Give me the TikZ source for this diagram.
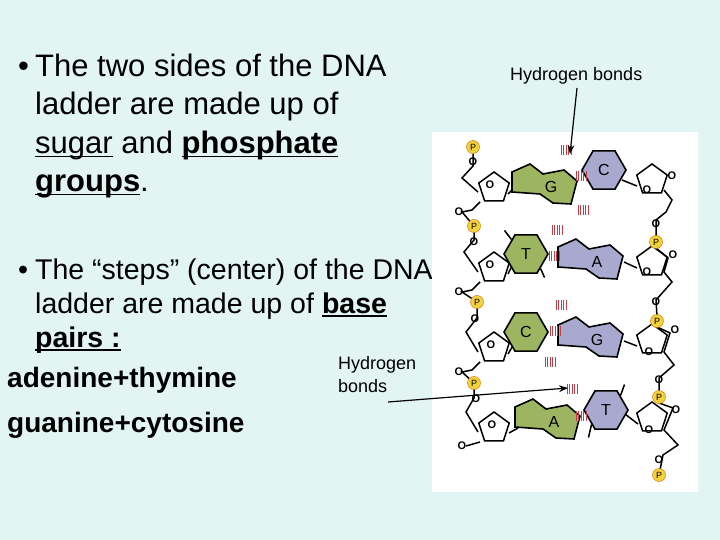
\documentclass[tikz,border=0pt]{standalone}
\usepackage{fontspec}
\setmainfont{Liberation Sans}
\usetikzlibrary{shapes.geometric,arrows.meta,calc}
\definecolor{bg}{HTML}{E2F5F2}
\definecolor{grn}{HTML}{9DB560}
\definecolor{pur}{HTML}{A9A9CF}
\definecolor{pyel}{HTML}{F2D23A}
\definecolor{hred}{HTML}{C0404A}
\newcommand{\myul}[1]{\setbox0\hbox{#1}\rlap{\rule[-3.5pt]{\wd0}{1.6pt}}\box0}
\tikzset{
 txt/.style={anchor=base west,inner sep=0pt,font=\fontsize{31}{34}\selectfont},
 txtc/.style={anchor=base west,inner sep=0pt,font=\fontsize{28.5}{34}\selectfont},
 txtb/.style={anchor=base west,inner sep=0pt,font=\fontsize{28}{30}\selectfont\bfseries},
 small/.style={anchor=base west,inner sep=0pt,font=\fontsize{18}{23}\selectfont,align=left},
 hexa/.style={regular polygon,regular polygon sides=6,minimum size=44pt,draw,line width=1.6pt,inner sep=0pt,font=\fontsize{16}{16}\selectfont},
 sug/.style={regular polygon,regular polygon sides=5,minimum size=32pt,draw,line width=1.5pt,inner sep=0pt},
 phos/.style={circle,fill=pyel,draw=orange!80!black,minimum size=13pt,inner sep=0pt,font=\fontsize{9}{9}\selectfont},
 ox/.style={inner sep=0.5pt,font=\fontsize{11}{11}\selectfont\bfseries},
 bb/.style={line width=1.5pt},
 arr/.style={line width=1.2pt,-{Stealth[length=9pt]}}
}
\newcommand{\hbond}[2]{\foreach \i in {0,...,4}{\draw[hred,line width=1pt] ($(#1,#2)+(\i*2.6,-5)$) -- ++(0,10);}}
\newcommand{\purine}[4]{% x y color label
 \draw[fill=#3,line width=1.6pt] (#1,#2) ++(-34,-15) -- ++(18,-8) -- ++(13,10) -- ++(21,-4) -- ++(13,11) -- ++(-6,23) -- ++(-18,-1) -- ++(-13,-9) -- ++(-28,-2) -- cycle;
 \node[font=\fontsize{16}{16}\selectfont] at (#1+5,#2) {#4};}
\begin{document}
\begin{tikzpicture}[x=1pt,y=-1pt]
\fill[bg] (0,0) rectangle (720,540);
\useasboundingbox (0,0) rectangle (720,540);
% text
\node[txt] (b1) at (18,77) {•};
\node[txt] (l1) at (35,77) {The two sides of the DNA};
\node[txt] (l2) at (35,115) {ladder are made up of};
\node[txt] (l3) at (35,154) {\myul{sugar}\ and \textbf{\myul{phosphate}}};
\node[txt] (l4) at (35,192) {\textbf{\myul{groups}}.};
\node[txtc] (b2) at (18,279) {•};
\node[txtc] (m1) at (35,279) {The “steps” (center) of the DNA};
\node[txtc] (m2) at (35,313) {ladder are made up of \textbf{\myul{base}}};
\node[txtc] (m3) at (35,347) {\textbf{\myul{pairs :}}};
\node[txtb] (ad) at (7,387) {adenine+thymine};
\node[txtb] (gu) at (7,432) {guanine+cytosine};
\node[small] (hb2) at (338,392) {Hydrogen\\bonds};
\node[small] (hb1) at (510,81) {Hydrogen bonds};
% figure
\fill[white] (432,132) rectangle (698,492);
% backbones left
\foreach \y in {188,268,348,428}{ \node[sug] at (494,\y) {}; }
\draw[bb] (473,154) -- (473,166) -- (462,178) -- (478,192);
\draw[bb] (480,202) -- (472,210) -- (462,212) -- (474,226) -- (474,240) -- (464,252) -- (478,272);
\draw[bb] (480,282) -- (472,290) -- (462,292) -- (477,302) -- (477,318) -- (466,332) -- (478,352);
\draw[bb] (480,362) -- (472,370) -- (462,372) -- (474,383) -- (474,398) -- (466,412) -- (478,432);
\draw[bb] (480,442) -- (466,446);
\node[ox] at (473,162) {O}; \node[ox] at (459,212) {O}; \node[ox] at (474,242) {O};
\node[ox] at (459,292) {O}; \node[ox] at (475,319) {O}; \node[ox] at (459,372) {O};
\node[ox] at (476,399) {O}; \node[ox] at (462,446) {O};
\node[ox] at (490,185) {O}; \node[ox] at (490,265) {O}; \node[ox] at (491,345) {O}; \node[ox] at (492,425) {O};
\node[phos] at (473,147) {P}; \node[phos] at (474,226) {P}; \node[phos] at (477,302) {P}; \node[phos] at (474,383) {P};
% backbones right
\foreach \y in {180,262,340,418}{ \node[sug] at (652,\y) {}; }
\draw[bb] (664,190) -- (672,200) -- (666,212) -- (656,220) -- (656,236);
\draw[bb] (656,248) -- (668,258) -- (664,272) -- (672,282) -- (656,300) -- (657,316);
\draw[bb] (657,327) -- (670,333) -- (664,352) -- (674,365) -- (659,378) -- (659,392);
\draw[bb] (659,403) -- (673,408) -- (664,430) -- (678,445) -- (663,455) -- (660,470);
\node[ox] at (672,176) {O}; \node[ox] at (647,190) {O}; \node[ox] at (656,224) {O};
\node[ox] at (673,255) {O}; \node[ox] at (647,272) {O}; \node[ox] at (656,302) {O};
\node[ox] at (675,330) {O}; \node[ox] at (649,352) {O}; \node[ox] at (659,380) {O};
\node[ox] at (676,410) {O}; \node[ox] at (649,430) {O}; \node[ox] at (659,460) {O};
\node[phos] at (656,242) {P}; \node[phos] at (657,321) {P}; \node[phos] at (659,397) {P}; \node[phos] at (659,475) {P};
% sugar-base links
\draw[bb] (508,194) -- (513,189); \draw[bb] (508,274) -- (512,266);
\draw[bb] (508,354) -- (514,344); \draw[bb] (509,433) -- (518,428);
\draw[bb] (622,180) -- (637,186); \draw[bb] (624,262) -- (637,268);
\draw[bb] (624,341) -- (637,346); \draw[bb] (625,414) -- (638,424);
% bases
\purine{546}{187}{grn}{G}
\node[hexa,fill=pur] (C1) at (604,170) {C};
\node[hexa,fill=grn] (T1) at (526,254) {T};
\purine{592}{262}{pur}{A}
\node[hexa,fill=grn] (C2) at (526,332) {C};
\purine{592}{340}{pur}{G}
\purine{549}{422}{grn}{A}
\node[hexa,fill=pur] (T2) at (606,410) {T};
\draw[bb] (T1.north west) -- ++(-7,-9); \draw[bb] (T1.south east) -- ++(4,9);
\draw[bb] (T2.north east) -- ++(4,-11); \draw[bb] (T2.south west) -- ++(-3,13);
% hydrogen bonds
\hbond{561}{150}\hbond{576}{176}\hbond{578}{210}
\hbond{552}{230}\hbond{549}{256}
\hbond{556}{305}\hbond{550}{331}\hbond{545}{362}
\hbond{567}{389}\hbond{576}{416}
% arrows
\coordinate (a1) at (577,88);
\draw[arr] (a1) -- (570,154);
\coordinate (a2) at (388,402);
\draw[arr] (a2) -- (568,388);
\end{tikzpicture}
\end{document}
